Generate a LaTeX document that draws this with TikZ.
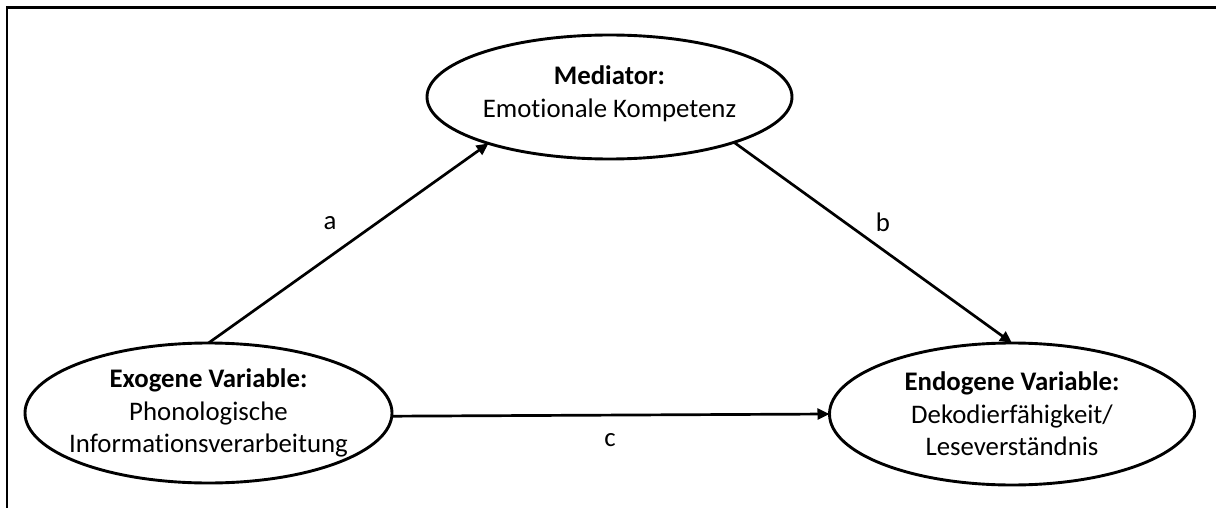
\documentclass[tikz,border=0pt]{standalone}
\usepackage{fontspec}
\setmainfont{Carlito}[Ligatures=NoCommon]
\usetikzlibrary{shapes.geometric,arrows.meta}

\tikzset{
  var/.style={ellipse, draw=black, line width=1.45pt, inner sep=0pt, outer sep=0pt},
  vartext/.style={align=center, inner sep=0pt, font=\fontsize{13.4}{16.3}\selectfont},
  path/.style={line width=1.35pt, -{Triangle[length=6pt,width=5.5pt]}},
  pathlabel/.style={inner sep=0pt, font=\fontsize{13.4}{16.3}\selectfont}
}

\begin{document}
\begin{tikzpicture}[x=0.5pt,y=-0.5pt]
  \useasboundingbox (0,0) rectangle (1216,508);

  % outer frame (runs off at right and bottom)
  \draw[line width=1.4pt] (7,508) -- (7,7.3) -- (1216,7.3);

  % variables
  \node[var, minimum width=182.5pt, minimum height=62pt] (med) at (609.5,97) {};
  \node[vartext] (medtext) at (609.5,94) {\textbf{Mediator:}\\Emotionale Kompetenz};

  \node[var, minimum width=183.5pt, minimum height=70pt] (exo) at (208.5,413) {};
  \node[vartext] (exotext) at (exo.center) {\textbf{Exogene Variable:}\\Phonologische\\Informationsverarbeitung};

  \node[var, minimum width=182.5pt, minimum height=71pt] (endo) at (1012,414) {};
  \node[vartext] (endotext) at (endo.center) {\textbf{Endogene Variable:}\\Dekodierfähigkeit/\\Leseverständnis};

  % paths
  \draw[path] (exo.north) -- (med.201);
  \draw[path] (med.-20) -- (endo.north);
  \draw[path] (exo.-1.3) -- (endo.west);

  % path labels
  \node[pathlabel] (la) at (330,223) {a};
  \node[pathlabel] (lb) at (883,222) {b};
  \node[pathlabel] (lc) at (610,440) {c};
\end{tikzpicture}
\end{document}
